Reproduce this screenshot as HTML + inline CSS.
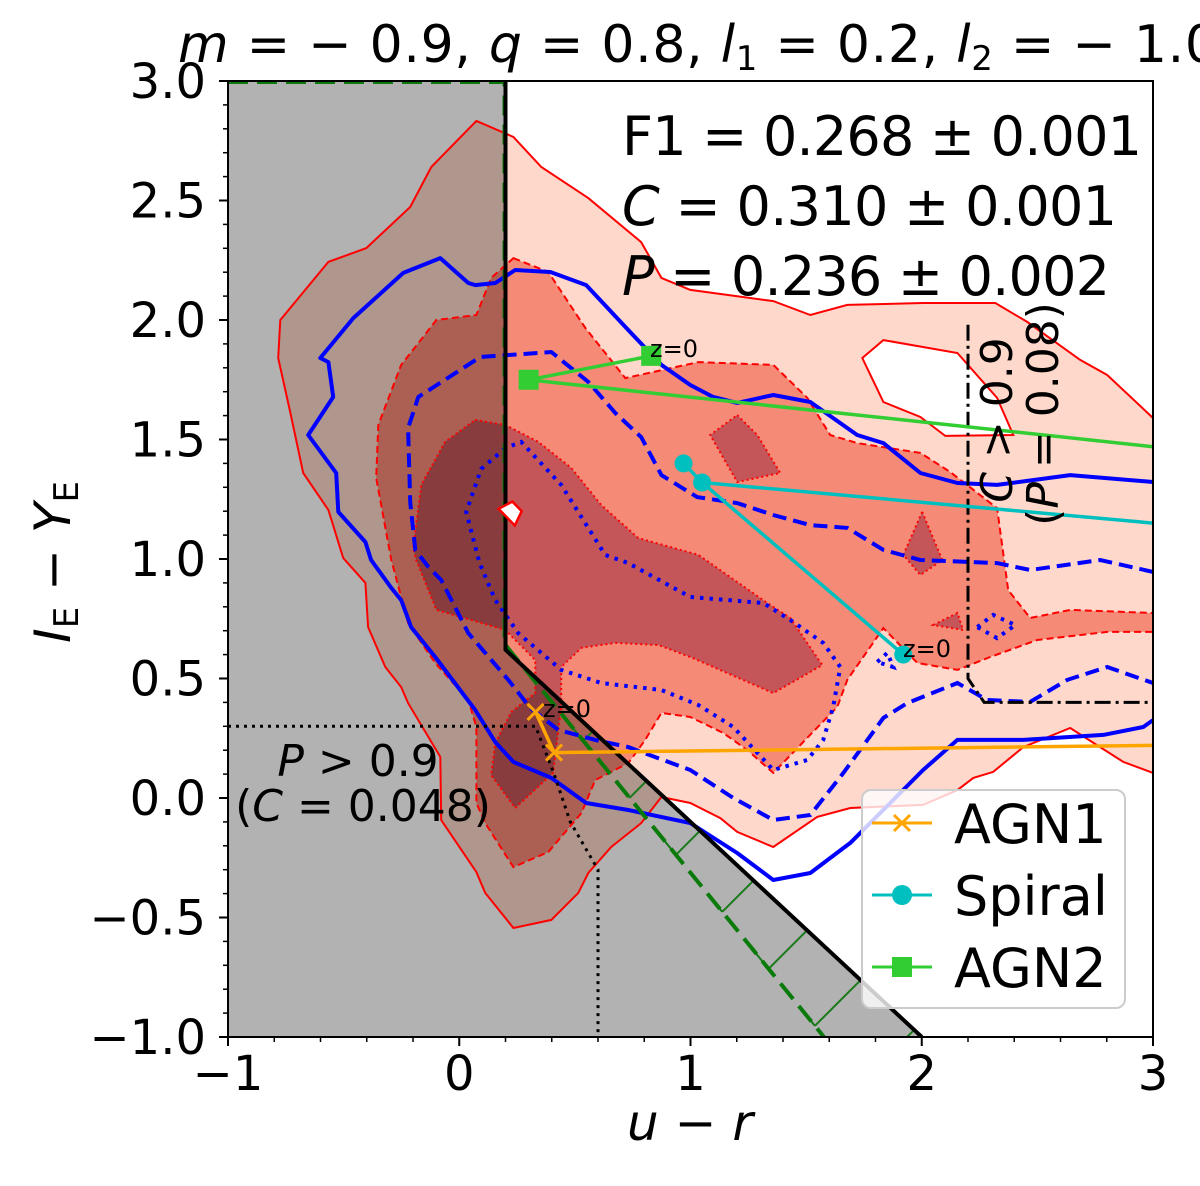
<!DOCTYPE html>
<html><head><meta charset="utf-8"><style>
html,body{margin:0;padding:0;background:#fff;width:1200px;height:1186px;overflow:hidden}
svg{display:block;font-family:"DejaVu Sans","Liberation Sans",sans-serif}
</style></head><body>
<svg id="chart" width="1200" height="1186" viewBox="0 0 1200 1186" xmlns="http://www.w3.org/2000/svg">
<defs><clipPath id="plotclip"><rect x="228" y="81" width="925" height="956"/></clipPath></defs>
<rect x="0" y="0" width="1200" height="1186" fill="#fff"/>
<g id="plot" clip-path="url(#plotclip)"></g>
<g id="axes"></g>
</svg>
<script>
// ---- data (u-r, IE-YE) ----
const xTicks=[-1,0,1,2,3];
const xTickLabels=["\u22121","0","1","2","3"];
const yTicks=[3.0,2.5,2.0,1.5,1.0,0.5,0.0,-0.5,-1.0];
const yTickLabels=["3.0","2.5","2.0","1.5","1.0","0.5","0.0","\u22120.5","\u22121.0"];
const level1X=[0.074,0.234,0.355,0.558,0.787,0.874,0.999,1.358,1.518,1.678,2.006,2.318,2.456,2.685,2.802,3.0,3.0,2.871,2.642,2.439,2.309,2.223,2.154,2.006,1.691,1.548,1.358,1.202,1.129,0.999,0.874,0.787,0.657,0.558,0.515,0.398,0.234,0.112,0.074,-0.078,-0.082,-0.221,-0.251,-0.320,-0.394,-0.406,-0.502,-0.566,-0.675,-0.731,-0.783,-0.774,-0.566,-0.402,-0.212,-0.121];
const level1Y=[2.833,2.766,2.640,2.510,2.326,2.176,2.126,2.079,2.021,2.063,2.071,2.071,1.992,1.833,1.770,1.590,0.105,0.151,0.293,0.213,0.109,0.084,0.033,-0.029,-0.042,-0.079,-0.205,-0.142,-0.084,-0.021,0.004,-0.105,-0.205,-0.314,-0.397,-0.510,-0.544,-0.397,-0.310,-0.092,0.172,0.397,0.464,0.548,0.715,0.900,1.004,1.205,1.360,1.615,1.841,2.000,2.243,2.301,2.473,2.640];
const holeX=[1.834,2.154,2.326,2.396,2.102,1.994,1.834,1.743];
const holeY=[1.916,1.862,1.674,1.519,1.515,1.594,1.657,1.841];
const level2X=[0.234,0.385,0.545,0.718,1.034,1.358,1.505,1.604,1.721,1.994,2.123,2.326,2.374,2.469,2.642,3.0,3.0,2.802,2.499,2.296,2.154,1.981,1.834,1.747,1.678,1.635,1.358,1.245,1.142,0.999,0.874,0.804,0.731,0.588,0.528,0.385,0.234,0.112,0.074,0.074,0.039,-0.104,-0.221,-0.294,-0.359,-0.350,-0.251,-0.099,0.074,0.138];
const level2Y=[2.259,2.201,1.967,1.757,1.824,1.812,1.674,1.519,1.485,1.444,1.364,1.213,0.870,0.753,0.787,0.774,0.695,0.695,0.661,0.590,0.536,0.565,0.711,0.590,0.494,0.381,0.105,0.201,0.272,0.339,0.356,0.243,0.146,0.075,-0.063,-0.226,-0.289,-0.105,-0.021,0.297,0.410,0.565,0.732,0.996,1.339,1.561,1.812,2.000,2.021,2.176];
const level3X=[0.069,0.199,0.342,0.484,0.614,0.774,1.034,1.332,1.431,1.570,1.358,0.999,0.861,0.675,0.528,0.441,0.441,0.406,0.242,0.138,0.156,0.225,0.329,0.329,0.199,0.009,-0.099,-0.186,-0.199,-0.164,-0.061];
const level3Y=[1.582,1.561,1.490,1.381,1.226,1.088,1.017,0.816,0.753,0.556,0.439,0.590,0.640,0.649,0.628,0.548,0.381,0.105,-0.042,0.096,0.230,0.360,0.439,0.577,0.703,0.757,0.787,0.996,1.046,1.310,1.490];
const islandAX=[1.202,1.289,1.388,1.202,1.085], islandAY=[1.602,1.519,1.360,1.322,1.519];
const islandBX=[2.002,2.089,1.994,1.920], islandBY=[1.197,0.996,0.933,1.017];
const islandCX=[2.050,2.154,2.179], islandCY=[0.724,0.774,0.703];
const blueSolidX=[3.0,2.642,2.326,2.154,1.994,1.834,1.721,1.518,1.358,1.202,1.098,0.999,0.874,0.718,0.549,0.394,0.242,0.156,0.069,0.039,-0.082,-0.242,-0.458,-0.601,-0.566,-0.545,-0.653,-0.532,-0.523,-0.406,-0.381,-0.294,-0.251,-0.208,-0.104,0.069,0.156,0.234,0.398,0.549,0.731,0.999,1.202,1.358,1.518,1.691,2.006,2.154,2.439,2.785,2.958,3.0];
const blueSolidY=[1.322,1.351,1.310,1.318,1.360,1.485,1.519,1.657,1.686,1.653,1.678,1.728,1.812,1.971,2.146,2.201,2.209,2.155,2.146,2.155,2.259,2.197,2.008,1.841,1.824,1.678,1.519,1.360,1.197,1.071,0.996,0.879,0.828,0.715,0.590,0.368,0.234,0.151,0.084,-0.021,-0.050,-0.105,-0.230,-0.343,-0.314,-0.188,0.117,0.243,0.243,0.264,0.297,0.326];
const blueDashX=[3.0,2.772,2.469,2.326,1.994,1.834,1.678,1.518,1.358,1.202,1.029,0.874,0.787,0.675,0.558,0.398,0.091,-0.177,-0.221,-0.212,-0.190,-0.134,-0.078,0.039,0.212,0.307,0.428,0.588,0.731,0.999,1.185,1.358,1.518,1.661,1.834,1.937,2.154,2.283,2.469,2.629,2.802,3.0];
const blueDashY=[0.946,0.996,0.954,0.983,0.996,1.038,1.130,1.142,1.184,1.234,1.259,1.351,1.510,1.611,1.741,1.866,1.845,1.678,1.548,1.238,1.038,0.967,0.912,0.690,0.494,0.377,0.285,0.243,0.213,0.117,0.0,-0.092,-0.071,0.105,0.335,0.397,0.481,0.410,0.402,0.494,0.548,0.481];
const blueDotX=[0.199,0.095,0.030,0.082,0.095,0.156,0.255,0.441,0.614,0.874,1.034,1.185,1.358,1.505,1.574,1.617,1.648,1.574,1.431,1.315,0.999,0.731,0.631,0.441,0.268];
const blueDotY=[1.464,1.377,1.197,1.004,0.967,0.828,0.690,0.536,0.481,0.452,0.389,0.297,0.117,0.159,0.243,0.381,0.548,0.649,0.745,0.816,0.841,0.983,1.017,1.310,1.490];
const blueDot2X=[2.240,2.309,2.404,2.326], blueDot2Y=[0.715,0.766,0.724,0.669];
const blueDot3X=[1.808,1.851,1.877], blueDot3Y=[0.569,0.607,0.548];
const agn1X=[0.33,0.41,3.0], agn1Y=[0.36,0.19,0.22];
const spiralX=[1.92,1.05,0.97], spiralY=[0.60,1.32,1.40];
const spiralTailX=[1.05,3.0], spiralTailY=[1.32,1.15];
const agn2X=[0.83,0.30,3.0], agn2Y=[1.85,1.75,1.47];
const cutM=-0.9, cutQ=0.8, cutL1=0.2, cutL2=-1.0;

// ---- axes ----
const X0=228,X1=1153,Y0=81,Y1=1037;
const sx=v=>X0+(v+1)/4*(X1-X0);
const sy=v=>Y1-(v+1)/4*(Y1-Y0);
const NS="http://www.w3.org/2000/svg";
const plot=document.getElementById('plot'), axes=document.getElementById('axes');
function mk(tag,attrs,parent){const e=document.createElementNS(NS,tag);for(const k in attrs)e.setAttribute(k,attrs[k]);(parent||plot).appendChild(e);return e;}
function pts(xs,ys){return xs.map((x,i)=>sx(x).toFixed(1)+','+sy(ys[i]).toFixed(1)).join(' ');}
function pathD(xs,ys,close){return 'M'+xs.map((x,i)=>sx(x).toFixed(1)+' '+sy(ys[i]).toFixed(1)).join(' L')+(close?' Z':'');}

const L1='#fdd8cb', L2='#f58a77', L3='#c4565a';
let e=mk('path',{d:pathD(level1X,level1Y,true)+' '+pathD(holeX,holeY,true),fill:L1,'fill-rule':'evenodd'});


e=mk('polygon',{points:pts(level2X,level2Y),fill:L2});


[[level3X,level3Y],[islandAX,islandAY],[islandBX,islandBY],[islandCX,islandCY]].forEach(p=>{
  const el=mk('polygon',{points:pts(p[0],p[1]),fill:L3});
  
  
});
const yAtL1=cutM*cutL1+cutQ, xAtL2=(cutL2-cutQ)/cutM;
e=mk('polygon',{points:pts([-1,cutL1,cutL1,xAtL2,-1],[3,3,yAtL1,cutL2,-1]),fill:'rgba(0,0,0,0.3)'});


e=mk('path',{d:pathD(level1X,level1Y,true)+' '+pathD(holeX,holeY,true),fill:'none',stroke:'#f00','stroke-width':2});


e=mk('polygon',{points:pts(level2X,level2Y),fill:'none',stroke:'#f00','stroke-width':2,'stroke-dasharray':'7,4'});


[[level3X,level3Y],[islandAX,islandAY],[islandBX,islandBY],[islandCX,islandCY]].forEach(p=>{
  const el=mk('polygon',{points:pts(p[0],p[1]),fill:'none',stroke:'#f00','stroke-width':2,'stroke-dasharray':'2,3'});
  
  
});
const gx0=sx(cutL1)-1, gy0=sy(yAtL1)-6, gx1=824, gy1=Y1;
const bx0=sx(cutL1), by0=sy(yAtL1), bx1=sx(xAtL2), by1=Y1;
const hatch=mk('g',{stroke:'#1a7a1a','stroke-width':2,fill:'none'});


for(let yy=gy0+40;yy<Y1+60;yy+=57){
  const t=(yy-gy0)/(gy1-gy0); const px=gx0+t*(gx1-gx0);
  let k=0, qx=px, qy=yy;
  for(k=0;k<200;k++){qx+=1;qy-=1;const tb=(qx-bx0)/(bx1-bx0);const ybl=by0+tb*(by1-by0);if(qy<=ybl)break;}
  mk('line',{x1:px,y1:yy,x2:qx,y2:qy},hatch);
  mk('line',{x1:px,y1:yy,x2:px-14,y2:yy-17},hatch);
}
e=mk('path',{d:pathD(blueSolidX,blueSolidY,false),fill:'none',stroke:'#00f','stroke-width':4,'stroke-linejoin':'round'});


e=mk('path',{d:pathD(blueDashX,blueDashY,false),fill:'none',stroke:'#00f','stroke-width':4,'stroke-dasharray':'14,7'});


[[blueDotX,blueDotY],[blueDot2X,blueDot2Y],[blueDot3X,blueDot3Y]].forEach(p=>{
  const el=mk('polygon',{points:pts(p[0],p[1]),fill:'none',stroke:'#00f','stroke-width':4,'stroke-dasharray':'3.5,6'});
  
  
});
e=mk('polyline',{fill:'none',stroke:'#0a7a0a','stroke-width':4,'stroke-dasharray':'20,9'});


e.setAttribute('points',`${X0},${Y0+1} ${gx0},${Y0+1} ${gx0},${gy0} ${gx1},${gy1}`);
e=mk('polyline',{points:pts([cutL1,cutL1,xAtL2],[3,yAtL1,cutL2]),fill:'none',stroke:'#000','stroke-width':4});


e=mk('polyline',{points:pts([-1,0.33,0.41,0.48,0.6,0.6],[0.3,0.3,0.1,-0.1,-0.3,-1]),fill:'none',stroke:'#000','stroke-width':3,'stroke-dasharray':'3,5'});


e=mk('polyline',{points:pts([2.2,2.2,2.27,3],[1.98,0.5,0.4,0.4]),fill:'none',stroke:'#000','stroke-width':3,'stroke-dasharray':'16,5,3,5'});


e=mk('polyline',{points:pts(agn1X,agn1Y),fill:'none',stroke:'#ffa500','stroke-width':3.5});


agn1X.slice(0,2).forEach((x,i)=>{const cx=sx(x),cy=sy(agn1Y[i]);const g=mk('path',{d:`M${cx-8} ${cy-8}L${cx+8} ${cy+8}M${cx-8} ${cy+8}L${cx+8} ${cy-8}`,stroke:'#ffa500','stroke-width':3});

});
e=mk('polyline',{points:pts(spiralX,spiralY),fill:'none',stroke:'#00bfbf','stroke-width':3.5});


e=mk('polyline',{points:pts(spiralTailX,spiralTailY),fill:'none',stroke:'#00bfbf','stroke-width':3.5});


spiralX.forEach((x,i)=>{const c=mk('circle',{cx:sx(x),cy:sy(spiralY[i]),r:9,fill:'#00bfbf'});

});
e=mk('polyline',{points:pts(agn2X,agn2Y),fill:'none',stroke:'#32cd32','stroke-width':3.5});


agn2X.slice(0,2).forEach((x,i)=>{const r=mk('rect',{x:sx(x)-10,y:sy(agn2Y[i])-10,width:20,height:20,fill:'#32cd32'});

});
e=mk('polygon',{points:pts([0.17,0.23,0.27,0.24],[1.21,1.24,1.2,1.14]),fill:'#fff',stroke:'#f00','stroke-width':2.5});



const ax=document.getElementById('axes');
e=mk('rect',{x:X0,y:Y0,width:X1-X0,height:Y1-Y0,fill:'none',stroke:'#000','stroke-width':2},ax);


for(let v=-1;v<=3.001;v+=0.2){mk('line',{x1:sx(v),x2:sx(v),y1:Y1,y2:Y1+5,stroke:'#000','stroke-width':1.5},ax);}
for(let v=-1;v<=3.001;v+=0.1){mk('line',{x1:X0,x2:X0-5,y1:sy(v),y2:sy(v),stroke:'#000','stroke-width':1.5},ax);}
xTicks.forEach((v,i)=>{mk('line',{x1:sx(v),x2:sx(v),y1:Y1,y2:Y1+9,stroke:'#000','stroke-width':2},ax);
 const t=mk('text',{x:sx(v),y:1090,'font-size':48,'text-anchor':'middle',fill:'#000'},ax);t.textContent=xTickLabels[i];
 
 });
yTicks.forEach((v,i)=>{mk('line',{x1:X0,x2:X0-9,y1:sy(v),y2:sy(v),stroke:'#000','stroke-width':2},ax);
 const t=mk('text',{x:206,y:sy(v)+17,'font-size':48,'text-anchor':'end',fill:'#000'},ax);t.textContent=yTickLabels[i];
 
 });
</script>
<svg style="position:absolute;left:0;top:0" width="1200" height="1186" viewBox="0 0 1200 1186" font-family="DejaVu Sans, Liberation Sans, sans-serif">
<text x="178" y="62" font-size="52" textLength="1040" lengthAdjust="spacing" fill="#000"><tspan font-style="italic">m</tspan> = − 0.9, <tspan font-style="italic">q</tspan> = 0.8, <tspan font-style="italic">l</tspan><tspan font-size="34" dy="8">1</tspan><tspan dy="-8"> = 0.2, </tspan><tspan font-style="italic">l</tspan><tspan font-size="34" dy="8">2</tspan><tspan dy="-8"> = − 1.0</tspan></text>
<text x="622" y="155" font-size="54" textLength="520" fill="#000">F1 = 0.268 ± 0.001</text>
<text x="622" y="225" font-size="54" textLength="495" fill="#000"><tspan font-style="italic">C</tspan> = 0.310 ± 0.001</text>
<text x="622" y="295" font-size="54" textLength="488" fill="#000"><tspan font-style="italic">P</tspan> = 0.236 ± 0.002</text>
<text transform="translate(1012,420) rotate(-90)" font-size="44" text-anchor="middle" fill="#000"><tspan font-style="italic">C</tspan> &gt; 0.9</text>
<text transform="translate(1058,414) rotate(-90)" font-size="44" text-anchor="middle" fill="#000">(<tspan font-style="italic">P</tspan> = 0.08)</text>
<text x="358" y="776" font-size="44" text-anchor="middle" fill="#000"><tspan font-style="italic">P</tspan> &gt; 0.9</text>
<text x="363" y="821" font-size="44" text-anchor="middle" fill="#000">(<tspan font-style="italic">C</tspan> = 0.048)</text>
<text x="543" y="717" font-size="24" fill="#000">z=0</text>
<text x="650" y="357" font-size="24" fill="#000">z=0</text>
<text x="903" y="657" font-size="24" fill="#000">z=0</text>
<text x="690" y="1140" font-size="50" text-anchor="middle" fill="#000"><tspan font-style="italic">u</tspan> − <tspan font-style="italic">r</tspan></text>
<text transform="translate(70,562) rotate(-90)" font-size="50" text-anchor="middle" fill="#000"><tspan font-style="italic">I</tspan><tspan font-size="34" dy="8">E</tspan><tspan dy="-8"> − </tspan><tspan font-style="italic">Y</tspan><tspan font-size="34" dy="8">E</tspan></text>
<g>
<rect x="862" y="790" width="263" height="218" rx="9" fill="rgba(255,255,255,0.8)" stroke="#ccc" stroke-width="2"/>
<g><line x1="872" y1="823" x2="932" y2="823" stroke="#ffa500" stroke-width="3"/><path d="M894 815L910 831M894 831L910 815" stroke="#ffa500" stroke-width="3"/><text x="954" y="843" font-size="54" fill="#000">AGN1</text></g>
<g><line x1="872" y1="895" x2="932" y2="895" stroke="#00bfbf" stroke-width="3"/><circle cx="902" cy="895" r="10" fill="#00bfbf"/><text x="954" y="915" font-size="54" fill="#000">Spiral</text></g>
<g><line x1="872" y1="967" x2="932" y2="967" stroke="#32cd32" stroke-width="3"/><rect x="892" y="957" width="20" height="20" fill="#32cd32"/><text x="954" y="987" font-size="54" fill="#000">AGN2</text></g>
</g>
</svg>
</body></html>
